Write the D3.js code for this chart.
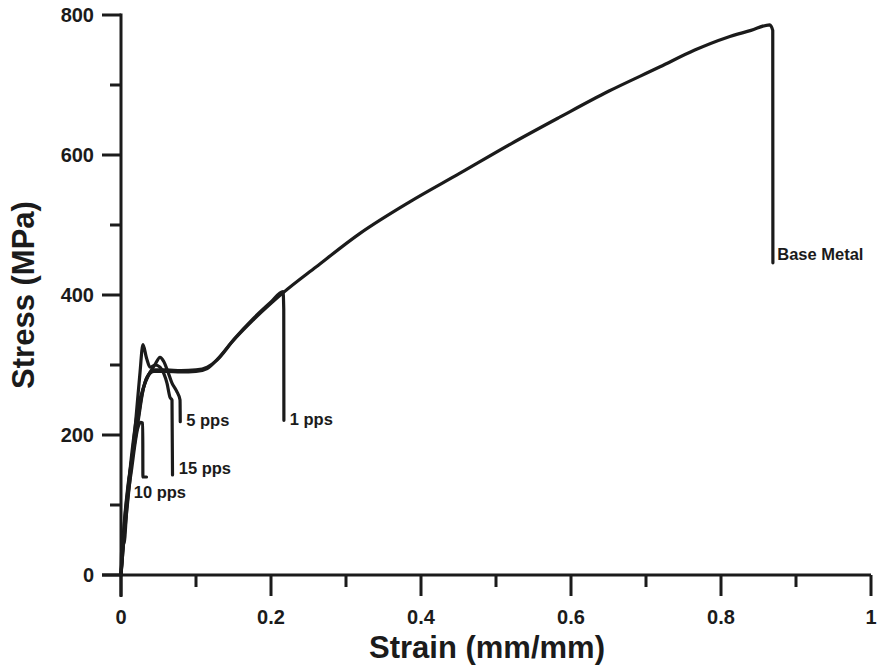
<!DOCTYPE html>
<html>
<head>
<meta charset="utf-8">
<script src="https://cdn.jsdelivr.net/npm/d3@7"></script>
<style>
  body { margin: 0; background: #fff; }
  text { font-family: "Liberation Sans", Arial, Helvetica, sans-serif; font-weight: bold; fill: #1b1b1b; }
</style>
</head>
<body>
<script>
// strain (mm/mm), stress (MPa)
var baseMetal = [[0,0],[0.005,79],[0.01,130],[0.016,174],[0.023,221],[0.029,262],[0.036,285],[0.045,293],[0.06,293],[0.08,292],[0.1,293],[0.115,297],[0.128,307],[0.149,334],[0.176,364],[0.2,388],[0.216,403],
  [0.26,440],[0.3187,488],[0.385,533],[0.452,574],[0.52,616],[0.585,654],[0.65,691],[0.7187,726],[0.765,750],[0.808,768],[0.84,778],[0.865,786],[0.869,778],[0.8692,446]];
var pps1 = [[0,0],[0.004,70],[0.009,125],[0.015,170],[0.022,218],[0.028,258],[0.035,283],[0.044,291],[0.06,291],[0.08,290],[0.1,291],[0.115,295],[0.13,310],[0.15,336],[0.176,366],[0.2,390],[0.216,405],[0.217,380],[0.2172,221]];
var pps5 = [[0,0],[0.004,55],[0.008,105],[0.013,160],[0.018,205],[0.024,245],[0.03,268],[0.037,286],[0.045,300],[0.052,311],[0.057,305],[0.062,292],[0.068,274],[0.074,263],[0.0787,250],[0.079,219]];
var pps15 = [[0,0],[0.003,40],[0.008,95],[0.0197,221],[0.025,285],[0.0293,329],[0.034,310],[0.0387,297],[0.046,300],[0.052,297],[0.057,288],[0.0613,274],[0.0653,254],[0.068,250],[0.0687,143]];
var pps10 = [[0,0],[0.002,60],[0.004,45],[0.008,100],[0.014,150],[0.0227,211],[0.026,218],[0.029,217],[0.0292,140],[0.034,140]];

var series = [baseMetal, pps1, pps5, pps15, pps10];
var seriesLabels = ["Base Metal", "1 pps", "5 pps", "15 pps", "10 pps"];
// where each label sits, in data units (strain, stress)
var labelAt = [[0.875, 450], [0.225, 215], [0.087, 213], [0.077, 145], [0.017, 110]];

var xTicks = [0, 0.2, 0.4, 0.6, 0.8, 1];
var xMinor = [0.1, 0.3, 0.5, 0.7, 0.9];
var yTicks = [0, 200, 400, 600, 800];
var yMinor = [100, 300, 500, 700];

var width = 877, height = 668;
var ink = "#1b1b1b";

var svg = d3.select("body").append("svg")
    .attr("width", width)
    .attr("height", height);

var x = d3.scaleLinear().domain([0, 1]).range([121, 871]);
var y = d3.scaleLinear().domain([0, 800]).range([575, 15]);

// axis lines (they cross past the origin)
svg.append("line")
    .attr("x1", 102).attr("x2", x(1))
    .attr("y1", y(0)).attr("y2", y(0))
    .style("stroke", ink).style("stroke-width", 3);
svg.append("line")
    .attr("x1", x(0)).attr("x2", x(0))
    .attr("y1", y(800) - 1.5).attr("y2", 597)
    .style("stroke", ink).style("stroke-width", 3);

// x ticks
svg.selectAll(".xmaj").data(xTicks).enter().append("line")
    .attr("x1", function (d) { return x(d); })
    .attr("x2", function (d) { return x(d); })
    .attr("y1", y(0)).attr("y2", 596)
    .style("stroke", ink).style("stroke-width", 3);
svg.selectAll(".xmin").data(xMinor).enter().append("line")
    .attr("x1", function (d) { return x(d); })
    .attr("x2", function (d) { return x(d); })
    .attr("y1", y(0)).attr("y2", 587)
    .style("stroke", ink).style("stroke-width", 3);
svg.selectAll(".xlab").data(xTicks).enter().append("text")
    .attr("x", function (d) { return x(d); })
    .attr("y", 624)
    .attr("text-anchor", "middle")
    .style("font-size", "20px")
    .text(function (d) { return d3.format("")(d); });

// y ticks
svg.selectAll(".ymaj").data(yTicks).enter().append("line")
    .attr("x1", 102).attr("x2", x(0))
    .attr("y1", function (d) { return y(d); })
    .attr("y2", function (d) { return y(d); })
    .style("stroke", ink).style("stroke-width", 3);
svg.selectAll(".ymin").data(yMinor).enter().append("line")
    .attr("x1", 110).attr("x2", x(0))
    .attr("y1", function (d) { return y(d); })
    .attr("y2", function (d) { return y(d); })
    .style("stroke", ink).style("stroke-width", 3);
svg.selectAll(".ylab").data(yTicks).enter().append("text")
    .attr("x", 94)
    .attr("y", function (d) { return y(d) + 7; })
    .attr("text-anchor", "end")
    .style("font-size", "20px")
    .text(function (d) { return d; });

// axis titles
svg.append("text")
    .attr("x", 487).attr("y", 658)
    .attr("text-anchor", "middle")
    .style("font-size", "31px")
    .text("Strain (mm/mm)");
svg.append("text")
    .attr("transform", "translate(34,295) rotate(-90)")
    .attr("text-anchor", "middle")
    .style("font-size", "31px")
    .text("Stress (MPa)");

// curves
var line = d3.line()
    .curve(d3.curveMonotoneX)
    .x(function (d) { return x(d[0]); })
    .y(function (d) { return y(d[1]); });

svg.selectAll(".curve").data(series).enter().append("path")
    .attr("d", line)
    .style("fill", "none")
    .style("stroke", ink)
    .style("stroke-width", 3.2)
    .style("stroke-linejoin", "round")
    .style("stroke-linecap", "round");

svg.selectAll(".clab").data(seriesLabels).enter().append("text")
    .attr("x", function (d, i) { return x(labelAt[i][0]); })
    .attr("y", function (d, i) { return y(labelAt[i][1]); })
    .style("font-size", "16.5px")
    .text(function (d) { return d; });
</script>
</body>
</html>
